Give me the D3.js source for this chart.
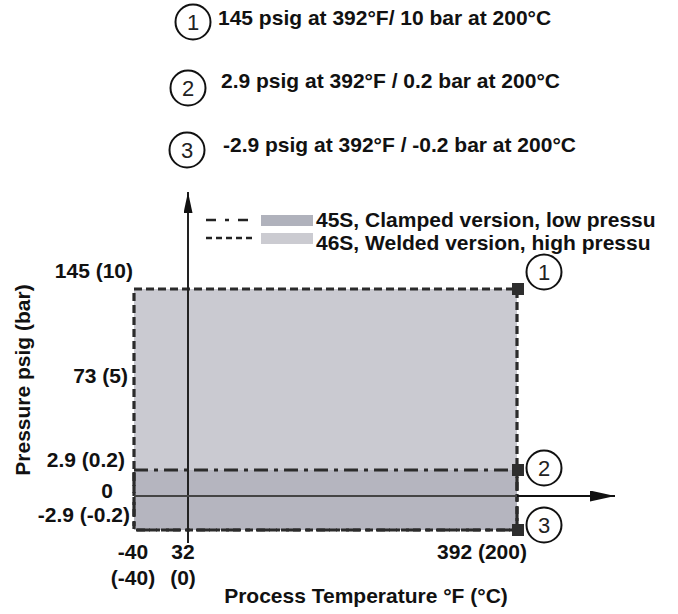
<!DOCTYPE html>
<html>
<head>
<meta charset="utf-8">
<script src="https://cdn.jsdelivr.net/npm/d3@7"></script>
<style>
  html, body { margin: 0; padding: 0; background: #fff; }
  svg { display: block; font-family: "Liberation Sans", Arial, sans-serif; }
</style>
</head>
<body>
<svg id="grafico" width="678" height="614"></svg>
<script>
// Datos del grafico
var tempTicksF = [-40, 32, 392];
var tempTicksC = [-40, 0, 200];
var pressureTicksPsig = [145, 73, 2.9, 0, -2.9];
var pressureTicksBar = [10, 5, 0.2, null, -0.2];

// Versiones (rango de operacion)
var productNames = ["45S, Clamped version, low pressu", "46S, Welded version, high pressu"];
var productMinF = [-40, -40];
var productMaxF = [392, 392];
var productMinPsig = [-2.9, -2.9];
var productMaxPsig = [2.9, 145];

// Notas numeradas
var noteNumbers = ["1", "2", "3"];
var notePsig = [145, 2.9, -2.9];
var noteTempF = [392, 392, 392];
var noteLabels = [
    "145 psig at 392\u00B0F/ 10 bar at 200\u00B0C",
    "2.9 psig at 392\u00B0F / 0.2 bar at 200\u00B0C",
    "-2.9 psig at 392\u00B0F / -0.2 bar at 200\u00B0C"
];

var svg = d3.select("#grafico");

// Escalas (eje partido, por eso son por tramos)
var x = d3.scaleLinear().domain([-40, 32, 392]).range([134, 188, 517]);
var y = d3.scaleLinear().domain([-2.9, 0, 2.9, 145]).range([530, 496, 470, 289]);

var fontBold = "bold 21px 'Liberation Sans', Arial, sans-serif";
var fontNum = "22px 'Liberation Sans', Arial, sans-serif";

// estilos por version
var fills = ["#b5b5bf", "#cacad1"];
var swatchFills = ["#b0b2bc", "#cbcbd1"];
var dashes = ["14,6,4,6", "8,4"];
var legendDashes = ["10,9,4,9", "6,4"];

//Rectangulos: primero la version soldada (grande), luego la de abrazadera
var order = [1, 0];
function rx(i) { return x(productMinF[i]); }
function ry(i) { return y(productMaxPsig[i]); }
function rw(i) { return x(productMaxF[i]) - x(productMinF[i]); }
function rh(i) { return y(productMinPsig[i]) - y(productMaxPsig[i]); }

svg.append("g").selectAll("rect")
    .data(order)
    .join("rect")
    .attr("x", rx).attr("y", ry).attr("width", rw).attr("height", rh)
    .style("fill", function (i) { return fills[i]; });

svg.append("g").selectAll("rect")
    .data(order)
    .join("rect")
    .attr("x", rx).attr("y", ry).attr("width", rw).attr("height", rh)
    .style("fill", "none")
    .style("stroke", "#2b2b2b")
    .style("stroke-width", 3.2)
    .style("stroke-dasharray", function (i) { return dashes[i]; });

// Puntas de flecha
var defs = svg.append("defs");
function flecha(id, largo, ancho) {
    defs.append("marker")
        .attr("id", id)
        .attr("viewBox", "0 0 " + largo + " " + ancho)
        .attr("refX", largo).attr("refY", ancho / 2)
        .attr("markerWidth", largo).attr("markerHeight", ancho)
        .attr("markerUnits", "userSpaceOnUse")
        .attr("orient", "auto")
        .append("path")
        .attr("d", "M0,0 L" + largo + "," + (ancho / 2) + " L0," + ancho + " Z")
        .style("fill", "#111");
}
flecha("flechaV", 21, 9);
flecha("flechaH", 25, 11);

// eje vertical (en 32 F)
svg.append("line")
    .attr("x1", x(32)).attr("x2", x(32))
    .attr("y1", 543).attr("y2", 192)
    .style("stroke", "#222")
    .style("stroke-width", 2)
    .attr("marker-end", "url(#flechaV)");

// eje horizontal (en 0 psig)
svg.append("line")
    .attr("x1", x(-40)).attr("x2", x(392))
    .attr("y1", y(0)).attr("y2", y(0))
    .style("stroke", "#444")
    .style("stroke-width", 2);
svg.append("line")
    .attr("x1", x(392)).attr("x2", 615)
    .attr("y1", y(0)).attr("y2", y(0))
    .style("stroke", "#111")
    .style("stroke-width", 2.2)
    .attr("marker-end", "url(#flechaH)");

// Marcadores cuadrados en las esquinas
svg.append("g").selectAll("rect")
    .data(notePsig)
    .join("rect")
    .attr("x", function (d, i) { return x(noteTempF[i]) - 5; })
    .attr("y", function (d) { return y(d) - 6; })
    .attr("width", 12).attr("height", 12)
    .style("fill", "#2e2e2e");

// Circulos numerados junto a las esquinas
var noteCircleDy = [-17, -2, -5];
var circulos = svg.append("g").selectAll("g")
    .data(notePsig)
    .join("g")
    .attr("transform", function (d, i) {
        return "translate(" + (x(noteTempF[i]) + 27) + "," + (y(d) + noteCircleDy[i]) + ")";
    });
circulos.append("circle")
    .attr("r", 17.5)
    .style("fill", "#fff")
    .style("stroke", "#111")
    .style("stroke-width", 2);
circulos.append("text")
    .attr("dy", "0.36em")
    .style("text-anchor", "middle")
    .style("font", fontNum)
    .style("fill", "#222")
    .text(function (d, i) { return noteNumbers[i]; });

// Notas de arriba
var notePos = [[193, 22, 218, 25], [188, 88, 221, 88], [187, 150, 223, 152]];
var notas = svg.append("g").selectAll("g")
    .data(noteLabels)
    .join("g");
notas.append("circle")
    .attr("cx", function (d, i) { return notePos[i][0]; })
    .attr("cy", function (d, i) { return notePos[i][1]; })
    .attr("r", 17.5)
    .style("fill", "none")
    .style("stroke", "#111")
    .style("stroke-width", 2);
notas.append("text")
    .attr("x", function (d, i) { return notePos[i][0]; })
    .attr("y", function (d, i) { return notePos[i][1]; })
    .attr("dy", "0.36em")
    .style("text-anchor", "middle")
    .style("font", fontNum)
    .style("fill", "#222")
    .text(function (d, i) { return noteNumbers[i]; });
notas.append("text")
    .attr("x", function (d, i) { return notePos[i][2]; })
    .attr("y", function (d, i) { return notePos[i][3]; })
    .style("font", fontBold)
    .style("fill", "#111")
    .text(function (d) { return d; });

// Leyenda
var leyenda = svg.append("g").selectAll("g")
    .data(productNames)
    .join("g")
    .attr("transform", function (d, i) { return "translate(0," + (i * 18) + ")"; });
leyenda.append("line")
    .attr("x1", 206).attr("x2", 252)
    .attr("y1", 220).attr("y2", 220)
    .style("stroke", "#222")
    .style("stroke-width", 2.5)
    .style("stroke-dasharray", function (d, i) { return legendDashes[i]; });
leyenda.append("rect")
    .attr("x", 261).attr("y", 215)
    .attr("width", 52).attr("height", 11)
    .style("fill", function (d, i) { return swatchFills[i]; });
leyenda.append("text")
    .attr("x", 316).attr("y", function (d, i) { return i === 0 ? 227 : 232; })
    .style("font", fontBold)
    .style("fill", "#111")
    .text(function (d) { return d; });

// Etiquetas eje Y (psig (bar))
var yLabelEnd = [133, 128, 125, 113, 130];
var yLabelDy = [-11, 2, -3, 2, -8];
svg.append("g").selectAll("text")
    .data(pressureTicksPsig)
    .join("text")
    .attr("x", function (d, i) { return yLabelEnd[i]; })
    .attr("y", function (d, i) { return y(d) + yLabelDy[i]; })
    .style("text-anchor", "end")
    .style("font", fontBold)
    .style("fill", "#111")
    .text(function (d, i) {
        var bar = pressureTicksBar[i];
        return bar === null ? String(d) : d + " (" + bar + ")";
    });

// Etiquetas eje X (F (C))
var xLabelDx = [-1, -5, -35];
var xTicks = svg.append("g").selectAll("text")
    .data(tempTicksF)
    .join("text")
    .attr("x", function (d, i) { return x(d) + xLabelDx[i]; })
    .attr("y", 559)
    .style("text-anchor", "middle")
    .style("font", fontBold)
    .style("fill", "#111");
xTicks.each(function (d, i) {
    var t = d3.select(this);
    if (i === tempTicksF.length - 1) {
        t.text(d + " (" + tempTicksC[i] + ")");
    } else {
        t.append("tspan").attr("x", x(d) + xLabelDx[i]).text(d);
        t.append("tspan").attr("x", x(d) + xLabelDx[i]).attr("dy", 26).text("(" + tempTicksC[i] + ")");
    }
});

// Titulos de ejes
svg.append("text")
    .attr("x", 366).attr("y", 603)
    .style("text-anchor", "middle")
    .style("font", fontBold)
    .style("fill", "#111")
    .text("Process Temperature \u00B0F (\u00B0C)");

svg.append("text")
    .attr("transform", "translate(30,380) rotate(-90)")
    .style("text-anchor", "middle")
    .style("font", fontBold)
    .style("fill", "#111")
    .text("Pressure psig (bar)");
</script>
</body>
</html>
